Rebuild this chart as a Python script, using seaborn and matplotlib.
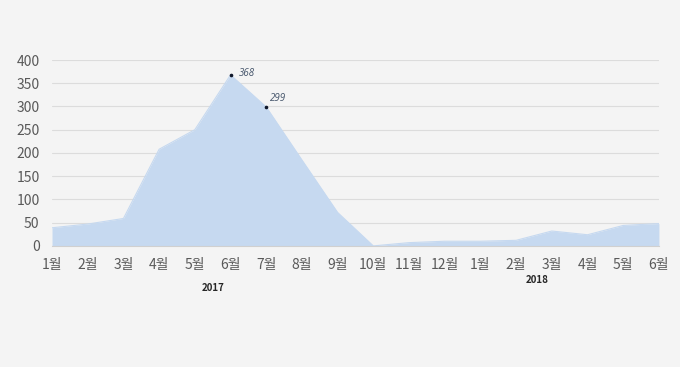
import pandas as pd
import numpy as np
import matplotlib
matplotlib.use("Agg")
import matplotlib.pyplot as plt
import seaborn as sns

# 월별 값 (2017.1 ~ 2018.6)
months = ["1월", "2월", "3월", "4월", "5월", "6월", "7월", "8월", "9월",
          "10월", "11월", "12월", "1월", "2월", "3월", "4월", "5월", "6월"]
values = [39, 47, 59, 208, 250, 368, 299, 185, 72,
          0, 7, 10, 10, 12, 32, 24, 44, 48]
years = ["2017", "2018"]
year_pos = [4.5, 13.6]
labeled_idx = [5, 6]

df = pd.DataFrame({"idx": np.arange(len(months)), "month": months, "value": values})

sns.set_style("white")
plt.rcParams["font.family"] = ["Noto Sans CJK KR", "DejaVu Sans"]

bg = "#f4f4f4"
fig = plt.figure(figsize=(6.8, 3.67), dpi=100, facecolor=bg)
ax = fig.add_axes([0.0765, 0.330, 0.8925, 0.5065])
ax.set_facecolor(bg)

fill_c = "#c6d9f0"
ax.fill_between(df["idx"], df["value"], 0, color=fill_c, linewidth=0, zorder=2)
sns.lineplot(data=df, x="idx", y="value", color=fill_c, linewidth=0.8, ax=ax, zorder=3)

# 데이터 레이블
offsets = [(6, 1), (3, 6)]
for i, off in zip(labeled_idx, offsets):
    ax.plot(df["idx"][i], df["value"][i], "o", color="#10182a", markersize=1.6, zorder=4)
    ax.annotate(str(values[i]), (df["idx"][i], df["value"][i]), xytext=off,
                textcoords="offset points", fontsize=7, style="italic",
                family=["Open Sans", "DejaVu Sans"],
                color="#44546a", va="center", ha="left")

ax.set_xlim(0, len(months) - 1)
ax.set_ylim(0, 400)
ax.set_yticks(range(0, 401, 50))
ax.set_xticks(df["idx"])
ax.set_xticklabels(months)
ax.yaxis.grid(True, color="#dcdcdc", linewidth=0.8, zorder=0)
ax.set_axisbelow(True)

for s in ["top", "right", "left"]:
    ax.spines[s].set_visible(False)
ax.spines["bottom"].set_color("#d0d0d0")
ax.spines["bottom"].set_zorder(5)

ax.tick_params(axis="x", length=4, color="#d0d0d0", labelsize=10, labelcolor="#595959", pad=5)
ax.tick_params(axis="y", length=0, labelsize=10, labelcolor="#595959", pad=9)
ax.set_xlabel("")
ax.set_ylabel("")

# 연도 표시
ax.text(year_pos[0], -0.225, years[0], transform=ax.get_xaxis_transform(),
        ha="center", va="center", fontsize=7, fontweight="bold", color="#262626")
ax.text(year_pos[1], -0.183, years[1], transform=ax.get_xaxis_transform(),
        ha="center", va="center", fontsize=7, fontweight="bold", color="#262626")

fig.savefig("out.png", dpi=100, facecolor=bg)
